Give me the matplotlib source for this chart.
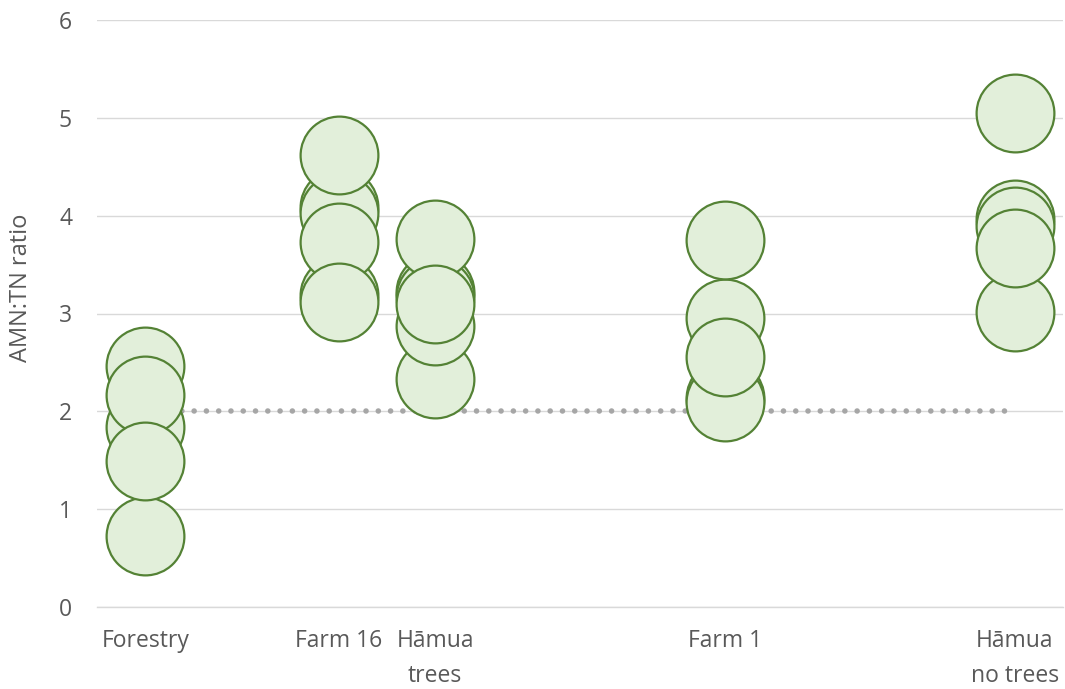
import numpy as np
import matplotlib.pyplot as plt

plt.rcParams['font.family'] = ['Open Sans', 'DejaVu Sans']

# x position and label of each site
site_x = [1, 3, 4, 7, 10]
site_labels = ['Forestry', 'Farm 16', 'Hāmua\ntrees', 'Farm 1', 'Hāmua\nno trees']

# AMN:TN ratios (kept in drawing order)
forestry = [0.73, 2.46, 1.84, 2.17, 1.49]
farm16 = [4.09, 4.03, 3.19, 3.73, 3.12, 4.62]
hamua_trees = [2.33, 2.87, 3.22, 3.17, 3.76, 3.10]
farm1 = [2.14, 2.10, 2.95, 3.75, 2.56]
hamua_no_trees = [3.02, 3.97, 3.89, 3.67, 5.05]
groups = [forestry, farm16, hamua_trees, farm1, hamua_no_trees]

# threshold line
ref_x = [1, 9.9]
ref_y = [2, 2]

fig = plt.figure(figsize=(10.65, 6.89), dpi=100)
ax = fig.add_axes([97 / 1065, 82 / 689, 966 / 1065, 587 / 689])

ax.plot(ref_x, ref_y, color='#A6A6A6', lw=4.0, linestyle=(0, (0.01, 2.2)),
        dash_capstyle='round', zorder=2)

for x, vals in zip(site_x, groups):
    ax.scatter(np.full(len(vals), x), vals, s=3136, facecolor='#E2EFDA',
               edgecolor='#548235', linewidths=1.6, zorder=3)

ax.set_xlim(0.5, 10.5)
ax.set_ylim(0, 6)
ax.set_yticks(range(7))
ax.set_xticks(site_x)
ax.set_xticklabels(site_labels, linespacing=1.62)
ax.grid(axis='y', color='#D9D9D9', lw=1.0, zorder=0)
ax.set_axisbelow(True)
for s in ['top', 'right', 'left']:
    ax.spines[s].set_visible(False)
ax.spines['bottom'].set_color('#D9D9D9')
ax.spines['bottom'].set_linewidth(1.0)
ax.tick_params(axis='both', length=0, labelsize=16.5, labelcolor='#595959')
ax.tick_params(axis='x', pad=16)
ax.tick_params(axis='y', pad=18)

ax.set_ylabel('AMN:TN ratio', fontsize=17, color='#595959')
ax.yaxis.set_label_coords(-0.066, 0.544)

fig.savefig('out.png', dpi=100)
